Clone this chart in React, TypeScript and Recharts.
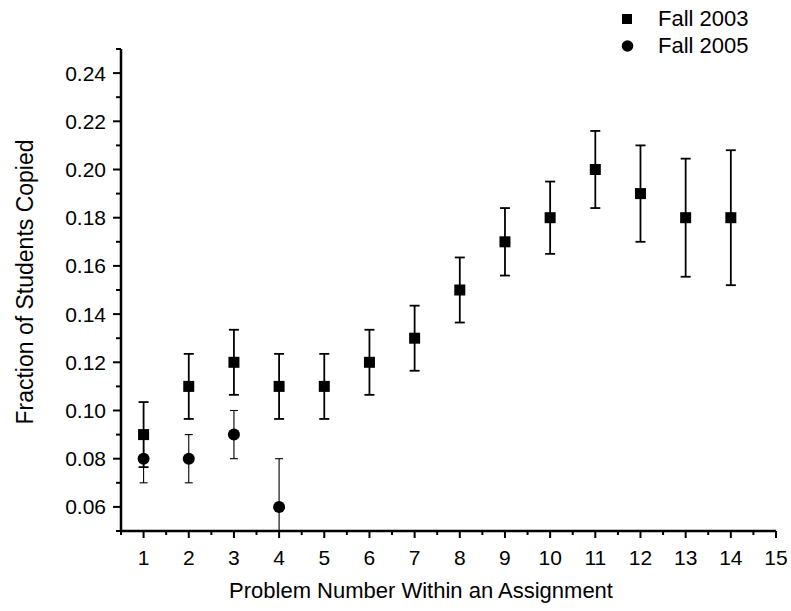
import React from 'react';
import { ScatterChart, Scatter, XAxis, YAxis, ErrorBar, Label } from 'recharts';

const problems = [1, 2, 3, 4, 5, 6, 7, 8, 9, 10, 11, 12, 13, 14];
const fall2003 = [0.09, 0.11, 0.12, 0.11, 0.11, 0.12, 0.13, 0.15, 0.17, 0.18, 0.2, 0.19, 0.18, 0.18];
const fall2003Err = [0.0135, 0.0135, 0.0135, 0.0135, 0.0135, 0.0135, 0.0135, 0.0135, 0.014, 0.015, 0.016, 0.02, 0.0245, 0.028];
const problems2005 = [1, 2, 3, 4];
const fall2005 = [0.08, 0.08, 0.09, 0.06];
// [below, above]; the last lower bar runs off the bottom of the axis, so it stops at 0.05
const fall2005Err = [[0.01, 0.01], [0.01, 0.01], [0.01, 0.01], [0.01, 0.02]];

// major ticks are labelled, minor ticks sit halfway between them
const xTicks = [0.5, 1, 1.5, 2, 2.5, 3, 3.5, 4, 4.5, 5, 5.5, 6, 6.5, 7, 7.5, 8, 8.5, 9, 9.5, 10, 10.5, 11, 11.5, 12, 12.5, 13, 13.5, 14, 14.5, 15];
const yTicks = [0.05, 0.06, 0.07, 0.08, 0.09, 0.1, 0.11, 0.12, 0.13, 0.14, 0.15, 0.16, 0.17, 0.18, 0.19, 0.2, 0.21, 0.22, 0.23, 0.24, 0.25];

const data2003 = problems.map((p, i) => ({ x: p, y: fall2003[i], err: fall2003Err[i] }));
const data2005 = problems2005.map((p, i) => ({ x: p, y: fall2005[i], err: fall2005Err[i] }));

const FONT = '"Liberation Sans", Arial, Helvetica, sans-serif';

const SquareMark = (props: any) => {
  const { cx, cy } = props;
  return <rect x={cx - 5.5} y={cy - 5.5} width={11} height={11} fill="#000" />;
};

const CircleMark = (props: any) => {
  const { cx, cy } = props;
  return <circle cx={cx} cy={cy} r={6} fill="#000" />;
};

const XTick = (props: any) => {
  const { x, y, payload } = props;
  const v = payload.value as number;
  const major = Number.isInteger(v);
  return (
    <g>
      <line x1={x} y1={y} x2={x} y2={y + (major ? 7 : 4)} stroke="#000" strokeWidth={2} />
      {major && (
        <text x={x} y={y + 34} textAnchor="middle" fontFamily={FONT} fontSize={21} fill="#000">
          {v}
        </text>
      )}
    </g>
  );
};

const YTick = (props: any) => {
  const { x, y, payload } = props;
  const v = payload.value as number;
  const major = Math.round(v * 100) % 2 === 0;
  return (
    <g>
      <line x1={x} y1={y} x2={x - (major ? 8 : 5)} y2={y} stroke="#000" strokeWidth={2} />
      {major && (
        <text x={x - 15} y={y + 7.5} textAnchor="end" fontFamily={FONT} fontSize={21} fill="#000">
          {v.toFixed(2)}
        </text>
      )}
    </g>
  );
};

const LegendBox = () => (
  <g fontFamily={FONT} fontSize={22} fill="#000">
    <rect x={622} y={14} width={10} height={10} fill="#000" />
    <text x={658} y={26}>Fall 2003</text>
    <circle cx={627.5} cy={46} r={5.8} fill="#000" />
    <text x={658} y={53}>Fall 2005</text>
  </g>
);

export default function App() {
  return (
    <div style={{ position: 'absolute', left: 0, top: 0, width: 791, height: 611, background: '#fff' }}>
      <ScatterChart width={791} height={611} margin={{ top: 49, right: 15, bottom: 0, left: 0 }}>
        <XAxis
          type="number"
          dataKey="x"
          domain={[0.5, 15]}
          ticks={xTicks}
          interval={0}
          height={80}
          allowDataOverflow
          axisLine={{ stroke: '#000', strokeWidth: 2.5 }}
          tickLine={false}
          tickSize={0}
          tickMargin={0}
          tick={XTick}
        >
          <Label
            content={() => (
              <text x={421} y={598} textAnchor="middle" fontFamily={FONT} fontSize={22} fill="#000">
                Problem Number Within an Assignment
              </text>
            )}
          />
        </XAxis>
        <YAxis
          type="number"
          dataKey="y"
          domain={[0.05, 0.25]}
          ticks={yTicks}
          interval={0}
          width={121}
          allowDataOverflow
          axisLine={{ stroke: '#000', strokeWidth: 2.5 }}
          tickLine={false}
          tickSize={0}
          tickMargin={0}
          tick={YTick}
        >
          <Label
            content={() => (
              <text
                x={0}
                y={0}
                transform="translate(33, 282) rotate(-90)"
                textAnchor="middle"
                fontFamily={FONT}
                fontSize={23}
                fill="#000"
              >
                Fraction of Students Copied
              </text>
            )}
          />
        </YAxis>
        <Scatter name="Fall 2003" data={data2003} shape={SquareMark} isAnimationActive={false}>
          <ErrorBar dataKey="err" direction="y" width={5} stroke="#000" strokeWidth={1.8} isAnimationActive={false} />
        </Scatter>
        <Scatter name="Fall 2005" data={data2005} shape={CircleMark} isAnimationActive={false}>
          <ErrorBar dataKey="err" direction="y" width={4} stroke="#000" strokeWidth={1.1} isAnimationActive={false} />
        </Scatter>
        <LegendBox />
      </ScatterChart>
    </div>
  );
}
